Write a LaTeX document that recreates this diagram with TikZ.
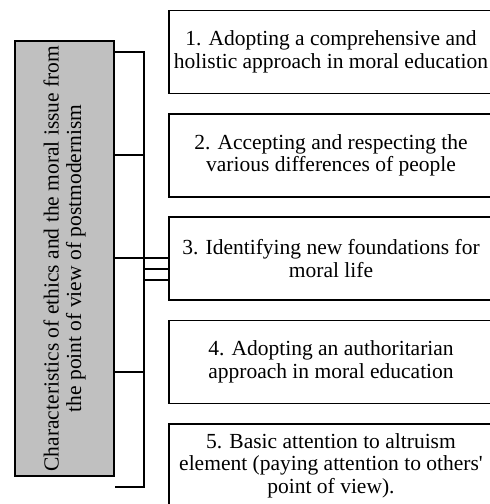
\documentclass[tikz,border=0pt]{standalone}
\usepackage{fontspec}
\setmainfont{Liberation Serif}
\usetikzlibrary{positioning}
\definecolor{boxgray}{RGB}{192,192,192}
\tikzset{
  itembox/.style = {draw, line width=1.2pt, minimum width=324pt, minimum height=83pt,
    align=center, inner sep=0pt},
  mainbox/.style = {draw, line width=1.2pt, fill=boxgray, minimum width=99pt,
    minimum height=435pt, inner sep=0pt},
  link/.style = {line width=1.2pt}
}

\begin{document}
\begin{tikzpicture}[x=1pt, y=-1pt, font=\fontsize{21.5}{22.5}\selectfont]
\useasboundingbox (0,0) rectangle (490,504);
\clip (0,0) rectangle (490,504);
\node[mainbox] (main) at (64.5,258.5) {};
\node[rotate=90, align=center] (maintext) at (main) {Characteristics of ethics and the moral issue from\\the point of view of postmodernism};
\node[itembox] (b1) at (331,52) {1. Adopting a comprehensive and\\holistic approach in moral education};
\node[itembox] (b2) at (331,155.5) {2. Accepting and respecting the\\various differences of people};
\node[itembox] (b3) at (331,258.5) {3. Identifying new foundations for\\moral life};
\node[itembox] (b4) at (331,362) {4. Adopting an authoritarian\\approach in moral education};
\node[itembox] (b5) at (331,465.5) {5. Basic attention to altruism\\element (paying attention to others\textquotesingle\\point of view).};
\coordinate (s1) at (144,52);
\coordinate (s2) at (144,155);
\coordinate (s3) at (144,258);
\coordinate (s3a) at (144,269);
\coordinate (s3b) at (144,280);
\coordinate (s4) at (144,372);
\coordinate (s5) at (144,487);
\draw[link] (main.east |- s1) -- (s1) -- (s5) -- (main.east |- s5);
\draw[link] (main.east |- s2) -- (s2);
\draw[link] (main.east |- s4) -- (s4);
\draw[link] (main.east |- s3) -- (b3.west |- s3);
\draw[link] (s3a) -- (b3.west |- s3a);
\draw[link] (s3b) -- (b3.west |- s3b);
\end{tikzpicture}
\end{document}
